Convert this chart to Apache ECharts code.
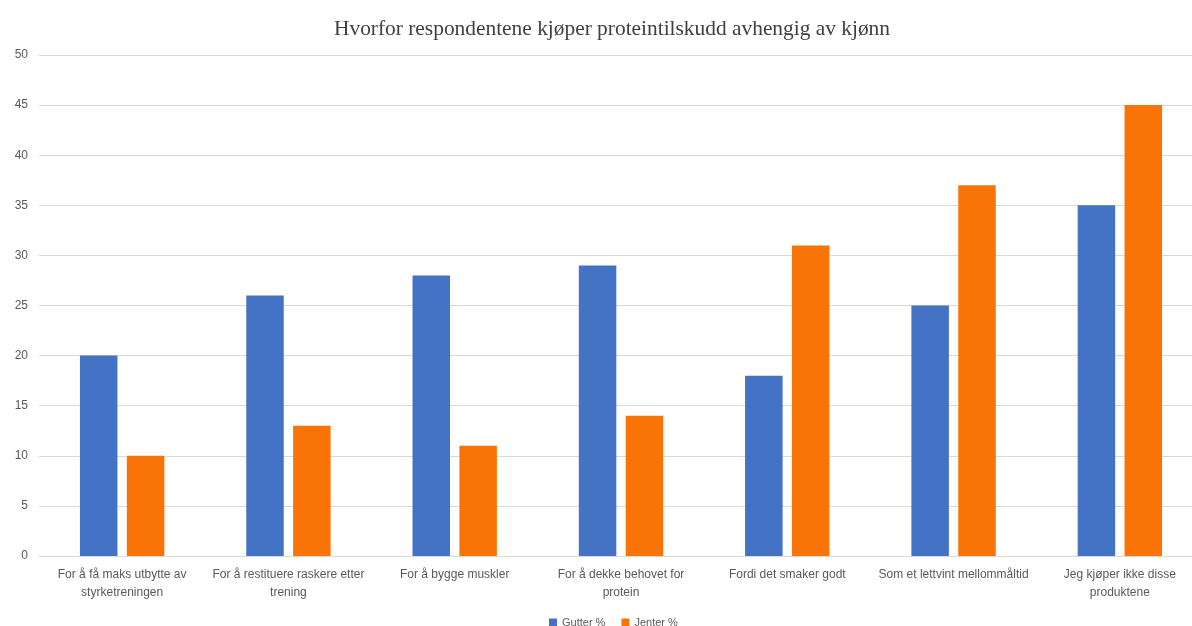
<!DOCTYPE html>
<html>
<head>
<meta charset="utf-8">
<script src="https://cdn.jsdelivr.net/npm/echarts@6/dist/echarts.min.js"></script>
<style>
  html, body { margin: 0; padding: 0; background: #fff; }
  #chart { width: 1192px; height: 626px; }
</style>
</head>
<body>
<div id="chart"></div>
<script>
// Reasons for buying protein supplements, by gender (percent)
const categories = [
  'For å få maks utbytte av\nstyrketreningen',
  'For å restituere raskere etter\ntrening',
  'For å bygge muskler',
  'For å dekke behovet for\nprotein',
  'Fordi det smaker godt',
  'Som et lettvint mellommåltid',
  'Jeg kjøper ikke disse\nproduktene'
];
const gutter = [20, 26, 28, 29, 18, 25, 35];
const jenter = [10, 13, 11, 14, 31, 37, 45];
const seriesNames = ['Gutter %', 'Jenter %'];

const chart = echarts.init(document.getElementById('chart'));
const labelFont = '"Liberation Sans", "DejaVu Sans", sans-serif';

chart.setOption({
  animation: false,
  backgroundColor: '#ffffff',
  title: {
    text: 'Hvorfor respondentene kjøper proteintilskudd avhengig av kjønn',
    left: 607,
    top: 14,
    textAlign: 'center',
    textStyle: {
      fontFamily: '"Liberation Serif", "DejaVu Serif", serif',
      fontSize: 21.4,
      fontWeight: 'normal',
      color: '#404040'
    }
  },
  legend: {
    data: seriesNames,
    left: 544,
    top: 612,
    itemWidth: 8,
    itemHeight: 8,
    itemGap: 16,
    icon: 'rect',
    textStyle: { fontFamily: labelFont, fontSize: 11, color: '#595959' }
  },
  // the plot runs a little past the right edge of the canvas
  grid: { left: 39, width: 1164, top: 55, bottom: 70, outerBoundsMode: 'none', containLabel: false },
  xAxis: {
    type: 'category',
    data: categories,
    axisLine: { lineStyle: { color: '#d9d9d9', width: 1 } },
    axisTick: { show: false },
    axisLabel: {
      interval: 0,
      margin: 10,
      fontFamily: labelFont,
      fontSize: 12,
      lineHeight: 18,
      color: '#595959'
    }
  },
  yAxis: {
    type: 'value',
    min: 0,
    max: 50,
    interval: 5,
    axisLine: { show: false },
    axisTick: { show: false },
    splitLine: { lineStyle: { color: '#d9d9d9', width: 1 } },
    axisLabel: {
      margin: 11,
      fontFamily: labelFont,
      fontSize: 12,
      color: '#595959'
    }
  },
  series: [
    {
      name: seriesNames[0],
      type: 'bar',
      data: gutter,
      barWidth: 37.5,
      barGap: '25%',
      itemStyle: { color: '#4472C4' }
    },
    {
      name: seriesNames[1],
      type: 'bar',
      data: jenter,
      barWidth: 37.5,
      itemStyle: { color: '#FA7307' }
    }
  ]
});
</script>
</body>
</html>
